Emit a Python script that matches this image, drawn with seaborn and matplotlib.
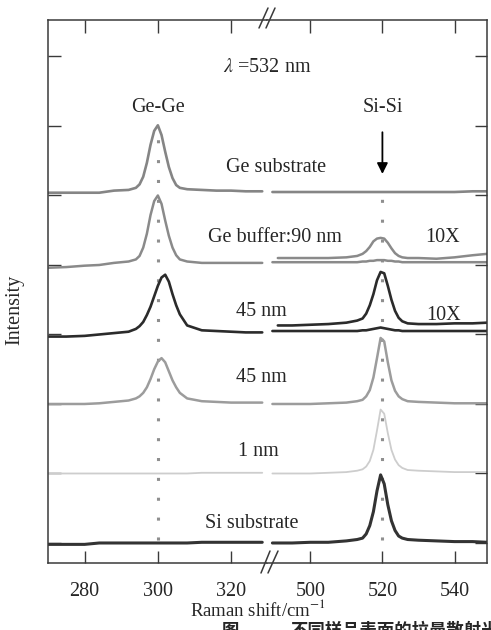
import pandas as pd
import seaborn as sns
import matplotlib.pyplot as plt
from matplotlib.lines import Line2D

# Raman shift grids (cm^-1) for the two halves of the broken x axis
GE_X = [270, 275, 280, 284, 288, 292, 294, 295, 296, 297, 298, 299, 300,
        301, 302, 303, 304, 305, 306, 308, 312, 316, 320, 324, 328.5]
SI_X = [489.5, 495, 500, 505, 510, 513, 514.5, 515.5, 516.5, 517.5, 518.5, 519.5,
        520.5, 521.5, 522.5, 523.5, 524.5, 525.5, 527, 530, 535, 540, 545, 549]
SI10_X = [491] + SI_X[1:]

SAMPLES = ["Ge substrate", "Ge buffer:90 nm", "45 nm (a)", "45 nm (b)", "1 nm", "Si substrate"]
OFFSETS = [5.05, 4.0, 3.0, 2.0, 1.0, 0.0]

# intensities above each trace's own baseline
GESUB_GE = [-0.01, -0.01, -0.01, -0.01, 0.02, 0.03, 0.06, 0.11, 0.22, 0.42, 0.68, 0.88, 0.96,
            0.82, 0.58, 0.36, 0.2, 0.1, 0.06, 0.04, 0.03, 0.02, 0.02, 0.01, 0.01]
BUF_GE = [-0.04, -0.03, -0.01, 0.0, 0.03, 0.05, 0.08, 0.13, 0.25, 0.45, 0.72, 0.92, 1.0,
          0.88, 0.64, 0.42, 0.25, 0.14, 0.08, 0.05, 0.03, 0.03, 0.03, 0.03, 0.03]
T45A_GE = [-0.03, -0.03, -0.02, 0.0, 0.02, 0.04, 0.08, 0.12, 0.18, 0.28, 0.4, 0.55, 0.7,
           0.82, 0.86, 0.76, 0.58, 0.42, 0.29, 0.13, 0.06, 0.05, 0.04, 0.03, 0.03]
T45B_GE = [0.0, 0.0, 0.0, 0.01, 0.03, 0.05, 0.08, 0.11, 0.16, 0.24, 0.36, 0.5, 0.61,
           0.66, 0.6, 0.47, 0.34, 0.24, 0.16, 0.08, 0.04, 0.03, 0.02, 0.02, 0.02]
T1_GE = [0.0, 0.0, 0.0, 0.0, 0.0, 0.0, 0.0, 0.0, 0.0, 0.0, 0.0, 0.0, 0.0,
         0.0, 0.0, 0.0, 0.0, 0.0, 0.0, 0.0, 0.01, 0.01, 0.01, 0.01, 0.01]
SISUB_GE = [-0.02, -0.02, -0.02, 0.0, 0.0, 0.0, 0.0, 0.0, 0.0, 0.0, 0.0, 0.0, 0.0,
            0.0, 0.0, 0.0, 0.0, 0.0, 0.0, 0.0, 0.01, 0.01, 0.01, 0.01, 0.01]

GESUB_SI = [0.0, 0.0, 0.0, 0.0, 0.0, 0.0, 0.0, 0.0, 0.0, 0.0, 0.0, 0.0,
            0.0, 0.0, 0.0, 0.0, 0.0, 0.0, 0.0, 0.0, 0.0, 0.0, 0.01, 0.01]
BUF_SI = [0.04, 0.04, 0.04, 0.04, 0.04, 0.04, 0.05, 0.05, 0.06, 0.06, 0.07, 0.07,
          0.07, 0.06, 0.06, 0.05, 0.05, 0.04, 0.04, 0.04, 0.04, 0.04, 0.04, 0.04]
T45A_SI = [0.05, 0.05, 0.05, 0.05, 0.05, 0.05, 0.06, 0.06, 0.07, 0.08, 0.09, 0.1,
           0.09, 0.08, 0.07, 0.06, 0.06, 0.05, 0.05, 0.05, 0.05, 0.05, 0.05, 0.05]
T45B_SI = [0.0, 0.0, 0.0, 0.01, 0.02, 0.04, 0.06, 0.11, 0.2, 0.38, 0.66, 0.95,
           0.9, 0.6, 0.34, 0.19, 0.11, 0.07, 0.04, 0.03, 0.02, 0.01, 0.01, 0.01]
T1_SI = [0.0, 0.0, 0.0, 0.01, 0.02, 0.04, 0.06, 0.1, 0.18, 0.34, 0.62, 0.92,
         0.86, 0.58, 0.34, 0.2, 0.12, 0.08, 0.05, 0.04, 0.03, 0.02, 0.02, 0.02]
SISUB_SI = [0.0, 0.0, 0.01, 0.01, 0.03, 0.05, 0.07, 0.13, 0.25, 0.45, 0.75, 0.98,
            0.85, 0.55, 0.32, 0.18, 0.1, 0.07, 0.05, 0.04, 0.03, 0.02, 0.02, 0.01]

# 10X magnified Si region
BUF_SI10 = [0.1, 0.1, 0.1, 0.1, 0.11, 0.13, 0.16, 0.2, 0.26, 0.34, 0.38, 0.39,
            0.38, 0.32, 0.24, 0.17, 0.13, 0.11, 0.1, 0.1, 0.09, 0.11, 0.14, 0.16]
T45A_SI10 = [0.13, 0.13, 0.14, 0.15, 0.17, 0.2, 0.23, 0.3, 0.42, 0.58, 0.78, 0.9,
             0.88, 0.7, 0.5, 0.34, 0.24, 0.19, 0.16, 0.15, 0.15, 0.16, 0.16, 0.17]

COLORS = ["#858585", "#8a8a8a", "#2b2b2b", "#9c9c9c", "#cdcdcd", "#333333"]
WIDTHS = [1.9, 1.8, 1.9, 1.8, 1.3, 2.2]

GE_SET = [GESUB_GE, BUF_GE, T45A_GE, T45B_GE, T1_GE, SISUB_GE]
SI_SET = [GESUB_SI, BUF_SI, T45A_SI, T45B_SI, T1_SI, SISUB_SI]
SI10_SET = {1: BUF_SI10, 2: T45A_SI10}

rows = []
for i, name in enumerate(SAMPLES):
    for x, y in zip(GE_X, GE_SET[i]):
        rows.append((name, "ge", x, y + OFFSETS[i]))
    for x, y in zip(SI_X, SI_SET[i]):
        rows.append((name, "si", x, y + OFFSETS[i]))
    if i in SI10_SET:
        for x, y in zip(SI10_X, SI10_SET[i]):
            rows.append((name, "si10", x, y + OFFSETS[i]))
df = pd.DataFrame(rows, columns=["sample", "part", "shift", "intensity"])

sns.set_theme(style="ticks")
plt.rcParams["font.family"] = ["Liberation Serif", "DejaVu Serif"]
plt.rcParams["mathtext.fontset"] = "stix"

W, H = 491, 630
fig = plt.figure(figsize=(W / 100, H / 100), dpi=100)
bot = 1 - 563 / H
ht = 543 / H
ax1 = fig.add_axes([48 / W, bot, 219 / W, ht])
ax2 = fig.add_axes([267 / W, bot, 220 / W, ht])

for i, name in enumerate(SAMPLES):
    sub = df[df["sample"] == name]
    for part, ax in [("ge", ax1), ("si", ax2), ("si10", ax2)]:
        d = sub[sub["part"] == part]
        if d.empty:
            continue
        sns.lineplot(data=d, x="shift", y="intensity", ax=ax, color=COLORS[i],
                     lw=WIDTHS[i], estimator=None, sort=False, legend=False)

# dotted guides at the Ge-Ge and Si-Si positions
ax1.vlines(300, 0.05, 5.85, colors="#8f8f8f", linestyles=(0, (1, 5.5)), lw=2.2, zorder=0)
ax2.vlines(520, 0.05, 4.95, colors="#8f8f8f", linestyles=(0, (1, 5.5)), lw=2.2, zorder=0)

for ax in (ax1, ax2):
    ax.set_ylim(-0.288, 7.525)
    ax.set_yticks(range(8))
    ax.set_yticklabels([])
    ax.set_xlabel("")
    ax.set_ylabel("")
    for s in ax.spines.values():
        s.set_color("#3a3a3a")
        s.set_linewidth(1.1)
    ax.tick_params(axis="both", direction="in", length=9, width=1.0, color="#3a3a3a",
                   labelsize=14.5, pad=14, top=True)

ax1.set_xlim(270, 329.8)
ax1.set_xticks([280, 300, 320])
ax1.spines["right"].set_visible(False)
ax1.tick_params(axis="y", left=True, right=False)

ax2.set_xlim(488, 549)
ax2.set_xticks([500, 520, 540])
ax2.spines["left"].set_visible(False)
ax2.tick_params(axis="y", left=False, right=True)

ax1.text(300, 6.27, "Ge-Ge", ha="center", va="center", fontsize=14.5)
ax2.text(520, 6.27, "Si-Si", ha="center", va="center", fontsize=14.5)
ax2.annotate("", xy=(520, 5.27), xytext=(520, 5.95),
             arrowprops=dict(arrowstyle="-|>", color="black", lw=1.3, mutation_scale=16))


def ftext(px, py, s, **kw):
    kw.setdefault("fontsize", 14.5)
    kw.setdefault("ha", "center")
    kw.setdefault("va", "center")
    fig.text(px / W, 1 - py / H, s, **kw)


ftext(223, 68, r"$\lambda$ =532 nm", ha="left")
ftext(276, 168, "Ge substrate")
ftext(275, 237, "Ge buffer:90 nm")
ftext(261, 312, "45 nm")
ftext(261, 378, "45 nm")
ftext(258, 452, "1 nm")
ftext(252, 523, "Si substrate")
ftext(443, 238, "10X")
ftext(444, 315, "10X")
ftext(15, 310, "Intensity", rotation=90)
ftext(258, 610, r"Raman shift/cm$^{-1}$", fontsize=13.5)

# caption, cut off by the bottom edge as in the scan
ftext(222, 622, "图", ha="left", va="top", fontsize=12.5, fontweight="bold",
      family=["Noto Sans CJK SC"])
ftext(290, 622, "不同样品表面的拉曼散射光谱", ha="left", va="top", fontsize=12.5,
      fontweight="bold", family=["Noto Sans CJK SC"])

# axis break marks
for (x0, y0, x1, y1) in [(259, 28, 268, 8), (266, 28, 275, 8),
                         (261, 573, 270, 551), (268, 573, 278, 551)]:
    fig.add_artist(Line2D([x0 / W, x1 / W], [1 - y0 / H, 1 - y1 / H],
                          color="#3a3a3a", lw=1.1))

fig.savefig("out.png", dpi=100)
